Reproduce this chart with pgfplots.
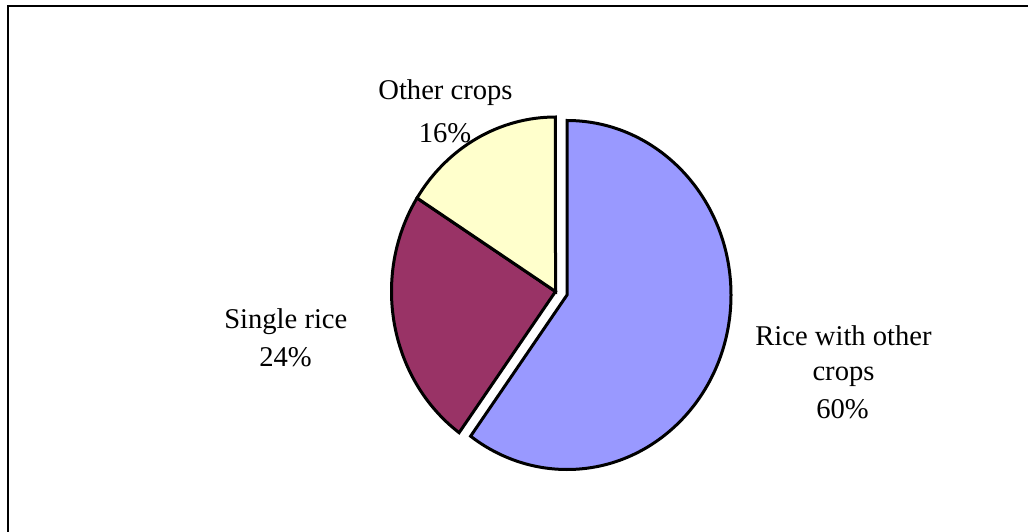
\documentclass[border=0pt]{standalone}
\usepackage{pgfplots}
\usepackage{pgfplotstable}
\pgfplotsset{compat=1.18}
\usepackage{fontspec}
\setmainfont{Liberation Serif}

\definecolor{riceblue}{HTML}{9999FF}
\definecolor{singleplum}{HTML}{993366}
\definecolor{otherivory}{HTML}{FFFFCC}

% Share of cropping patterns (%)
\pgfplotstableread{
value
60
24
16
}\cropshare

\begin{document}
\begin{tikzpicture}
  \pgfplotstablegetelem{0}{value}\of\cropshare \let\vRice\pgfplotsretval
  \pgfplotstablegetelem{1}{value}\of\cropshare \let\vSingle\pgfplotsretval
  \pgfplotstablegetelem{2}{value}\of\cropshare \let\vOther\pgfplotsretval
  \pgfmathsetmacro\total{\vRice+\vSingle+\vOther}
  % slice boundaries, clockwise from 12 o'clock
  \pgfmathsetmacro\aA{90}
  \pgfmathsetmacro\aB{\aA-360*(\vRice/\total)}
  \pgfmathsetmacro\aC{\aB-360*(\vSingle/\total)}
  \pgfmathsetmacro\aD{\aC-360*(\vOther/\total)}
  % pie centre, radii (axis units) and offset of the pulled-out slice
  \def\cx{555.5}\def\cy{239.5}
  \def\rx{164}\def\ry{174.5}
  \def\ex{11.5}\def\ey{-3.5}
  \begin{axis}[
      x=0.5pt, y=0.5pt, scale only axis,
      xmin=0, xmax=1028, ymin=0, ymax=531,
      hide axis, clip=true,
    ]
    \path[fill=white] (axis cs:0,0) rectangle (axis cs:1028,531);
    % chart area frame
    \draw[line width=1.1pt, black] (axis cs:8,-20) -- (axis cs:8,525) -- (axis cs:1060,525);

    % Rice with other crops (pulled out)
    \filldraw[fill=riceblue, draw=black, line width=1.5pt, line join=miter]
      (axis cs:{\cx+\ex},{\cy+\ey})
      -- (axis cs:{\cx+\ex+\rx*cos(\aA)},{\cy+\ey+\ry*sin(\aA)})
      arc[start angle=\aA, end angle=\aB, x radius=\rx*0.5pt, y radius=\ry*0.5pt]
      -- cycle;
    % Single rice
    \filldraw[fill=singleplum, draw=black, line width=1.5pt, line join=miter]
      (axis cs:\cx,\cy)
      -- (axis cs:{\cx+\rx*cos(\aB)},{\cy+\ry*sin(\aB)})
      arc[start angle=\aB, end angle=\aC, x radius=\rx*0.5pt, y radius=\ry*0.5pt]
      -- cycle;
    % Other crops
    \filldraw[fill=otherivory, draw=black, line width=1.5pt, line join=miter]
      (axis cs:\cx,\cy)
      -- (axis cs:{\cx+\rx*cos(\aC)},{\cy+\ry*sin(\aC)})
      arc[start angle=\aC, end angle=\aD, x radius=\rx*0.5pt, y radius=\ry*0.5pt]
      -- cycle;

    % data labels
    \begin{scope}[every node/.style={anchor=base, inner sep=0pt, font=\fontsize{14.3}{17}\selectfont}]
      \node at (axis cs:445.5,431.7) {Other crops};
      \node at (axis cs:445,388.3) {\vOther\%};
      \node at (axis cs:285.8,203) {Single rice};
      \node at (axis cs:285.5,164.3) {\vSingle\%};
      \node at (axis cs:843.5,186) {Rice with other};
      \node at (axis cs:843.5,150.3) {crops};
      \node at (axis cs:842.5,113) {\vRice\%};
    \end{scope}
  \end{axis}
\end{tikzpicture}
\end{document}
